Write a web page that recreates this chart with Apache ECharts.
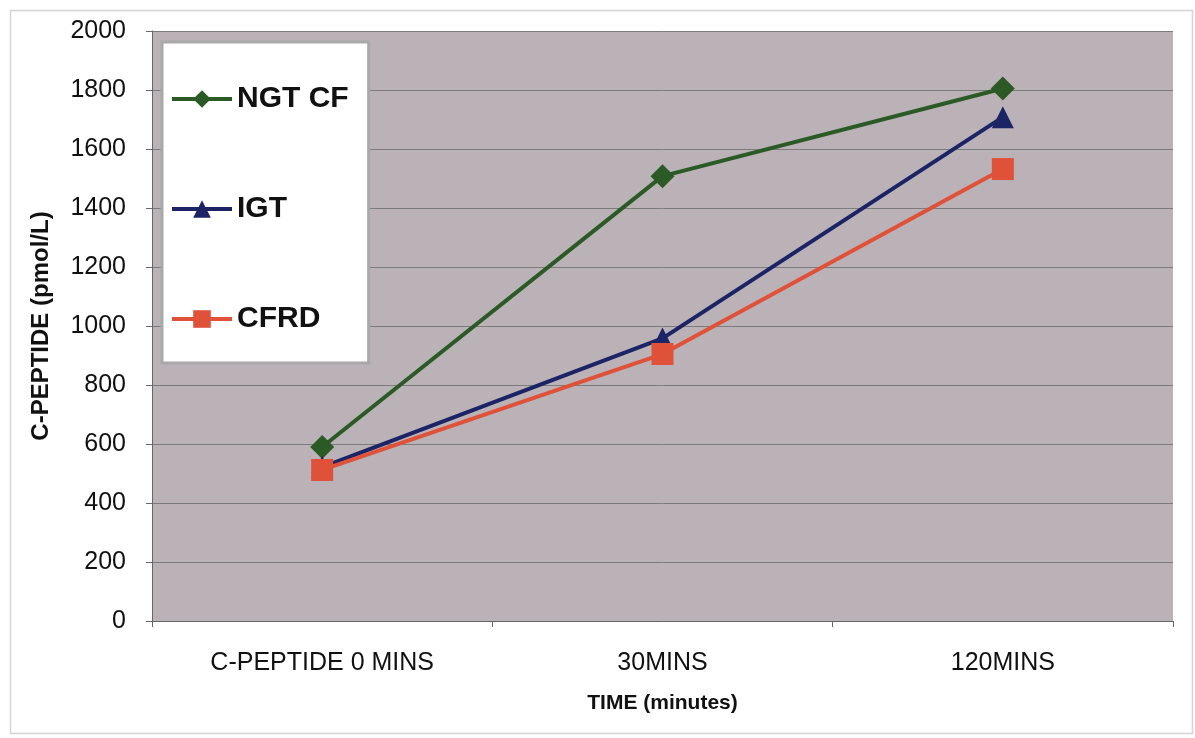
<!DOCTYPE html>
<html>
<head>
<meta charset="utf-8">
<script src="https://cdn.jsdelivr.net/npm/echarts@6/dist/echarts.min.js"></script>
<style>
html,body{margin:0;padding:0;background:#fff;}
#chart{width:1195px;height:738px;}
</style>
</head>
<body>
<div id="chart"></div>
<script>
const categories = ['C-PEPTIDE 0 MINS', '30MINS', '120MINS'];
const ngtCF = [590, 1508, 1805];
const igt = [522, 958, 1708];
const cfrd = [512, 905, 1532];
const seriesNames = ['NGT CF', 'IGT', 'CFRD'];
const yTitle = 'C-PEPTIDE (pmol/L)';
const xTitle = 'TIME (minutes)';

const chart = echarts.init(document.getElementById('chart'), null, {renderer: 'canvas'});
const font = 'Arial, "Liberation Sans", sans-serif';
const colors = ['#2c5a27', '#1d2466', '#e0513a'];

chart.setOption({
  animation: false,
  backgroundColor: '#ffffff',
  graphic: [{
    type: 'rect', left: 8, top: 8,
    shape: {width: 1182, height: 723},
    style: {fill: 'none', stroke: '#d4d4d4', lineWidth: 1.5},
    silent: true
  }],
  grid: {
    left: 152, right: 22, top: 31, bottom: 117,
    show: true, backgroundColor: '#bab2b7', borderWidth: 0
  },
  legend: {
    orient: 'vertical', left: 162, top: 42,
    width: 206,
    padding: [42, 20, 29, 8],
    itemGap: 80, itemWidth: 60, itemHeight: 22,
    backgroundColor: '#ffffff', borderColor: '#a9a9a9', borderWidth: 3,
    lineStyle: {width: 4},
    textStyle: {fontFamily: font, fontWeight: 'bold', fontSize: 30, color: '#111'},
    data: seriesNames
  },
  xAxis: {
    type: 'category', data: categories, boundaryGap: true,
    name: xTitle, nameLocation: 'middle', nameGap: 72,
    nameTextStyle: {fontFamily: font, fontWeight: 'bold', fontSize: 21, color: '#111'},
    axisLine: {show: true, lineStyle: {color: '#666', width: 1}},
    axisTick: {show: true, length: 6, lineStyle: {color: '#666'}},
    axisLabel: {fontFamily: font, fontSize: 25, color: '#111', margin: 30},
    splitLine: {show: false}
  },
  yAxis: {
    type: 'value', min: 0, max: 2000, interval: 200,
    name: yTitle, nameLocation: 'middle', nameGap: 99, nameRotate: 90,
    nameTextStyle: {fontFamily: font, fontWeight: 'bold', fontSize: 24, color: '#111'},
    axisLine: {show: true, lineStyle: {color: '#666', width: 1}},
    axisTick: {show: true, length: 6, inside: false, lineStyle: {color: '#666'}},
    axisLabel: {fontFamily: font, fontSize: 25, color: '#111', margin: 26,
      formatter: function (v) { return String(v); }},
    splitLine: {show: true, lineStyle: {color: '#7c7c7c', width: 1}}
  },
  series: [
    {name: seriesNames[0], type: 'line', data: ngtCF, symbol: 'diamond', symbolSize: 24,
     lineStyle: {color: colors[0], width: 4}, itemStyle: {color: colors[0]}, z: 3},
    {name: seriesNames[1], type: 'line', data: igt, symbol: 'triangle', symbolSize: 22,
     lineStyle: {color: colors[1], width: 4}, itemStyle: {color: colors[1]}, z: 4},
    {name: seriesNames[2], type: 'line', data: cfrd, symbol: 'rect', symbolSize: 22,
     lineStyle: {color: colors[2], width: 4}, itemStyle: {color: colors[2]}, z: 5}
  ]
});
</script>
</body>
</html>
